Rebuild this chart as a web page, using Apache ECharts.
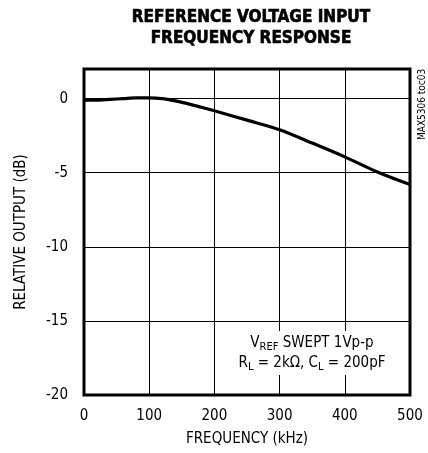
<!DOCTYPE html>
<html><head><meta charset="utf-8">
<script src="https://cdn.jsdelivr.net/npm/echarts@6/dist/echarts.min.js"></script>
<style>html,body{margin:0;padding:0;background:#fff}#c{width:428px;height:453px}</style>
</head><body><div id="c"></div>
<script>
const freqKHz = [0, 20, 40, 60, 80, 100, 120, 140, 160, 180, 200, 250, 300, 350, 400, 450, 500];
const outputDb = [-0.1, -0.1, -0.05, 0, 0.05, 0.05, 0, -0.15, -0.35, -0.58, -0.82, -1.45, -2.1, -3.0, -3.93, -4.95, -5.8];
const xTicks = [0, 100, 200, 300, 400, 500];
const yTicks = [-20, -15, -10, -5, 0];

const F = "'Liberation Sans Narrow','DejaVu Sans Condensed','Liberation Sans',sans-serif";
const chart = echarts.init(document.getElementById('c'));
chart.setOption({
  animation: false,
  backgroundColor: '#fff',
  title: {
    text: 'REFERENCE VOLTAGE INPUT\nFREQUENCY RESPONSE',
    left: 246, top: 2, textAlign: 'center',
    textStyle: {fontFamily: F, fontWeight: 'bold', fontSize: 17, lineHeight: 21, color: '#000',
      textBorderColor: '#000', textBorderWidth: 0.6}
  },
  grid: {left: 84, right: 18, top: 69, bottom: 58, show: true, borderColor: '#000', borderWidth: 3, backgroundColor: 'transparent'},
  xAxis: {
    type: 'value', min: xTicks[0], max: xTicks[xTicks.length-1], interval: 100,
    name: 'FREQUENCY (kHz)', nameLocation: 'middle', nameGap: 37,
    nameTextStyle: {fontFamily: F, fontSize: 15, color: '#000'},
    axisLine: {show: false}, axisTick: {show: false},
    axisLabel: {fontFamily: F, fontSize: 15, color: '#000', margin: 14},
    splitLine: {show: true, lineStyle: {color: '#000', width: 1}}
  },
  yAxis: {
    type: 'value', min: yTicks[0], max: 2, interval: 5,
    name: 'RELATIVE OUTPUT (dB)', nameLocation: 'middle', nameGap: 55,
    nameTextStyle: {fontFamily: F, fontSize: 15, color: '#000'},
    axisLine: {show: false}, axisTick: {show: false},
    axisLabel: {fontFamily: F, fontSize: 15, color: '#000', margin: 16,
      formatter: v => yTicks.includes(v) ? String(v) : ''},
    splitLine: {show: true, lineStyle: {color: '#000', width: 1}}
  },
  series: [{
    type: 'line', smooth: 0.3, showSymbol: false,
    data: freqKHz.map((f, i) => [f, outputDb[i]]),
    lineStyle: {color: '#000', width: 3.2}
  }],
  graphic: [
    {type: 'text', x: 312, y: 331, z: 100,
     style: {rich: {
        n: {fontFamily: F, fontSize: 15, fill: '#000'},
        s: {fontFamily: F, fontSize: 11, fill: '#000', verticalAlign: 'bottom', padding: [8,0,0,0]}
      },
      text: '{n|V}{s|REF}{n| SWEPT 1Vp-p}\n{n|R}{s|L}{n| = 2kΩ, C}{s|L}{n| = 200pF}',
      backgroundColor: '#fff', padding: [2, 3], lineHeight: 20, align: 'center', verticalAlign: 'top', fill: '#000'}},
    {type: 'text', x: 417, y: 140, rotation: Math.PI/2,
     style: {text: 'MAX5306 toc03', fontFamily: F, fontSize: 10, fill: '#000'}}
  ]
});
</script></body></html>
